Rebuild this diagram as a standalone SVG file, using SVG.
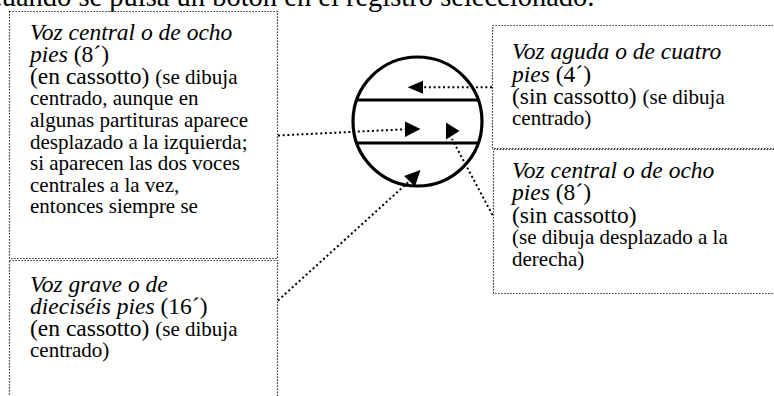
<svg xmlns="http://www.w3.org/2000/svg" width="774" height="396" viewBox="0 0 774 396">
  <style>
    .box { fill: #fff; stroke: #000; stroke-width: 1.2; stroke-dasharray: 1.2 1.8; }
    text { font-family: 'Liberation Serif', 'DejaVu Serif', serif; fill: #000; }
    .big { font-size: 23.5px; }
    .small { font-size: 21px; }
    .it { font-style: italic; }
    .conn { fill: none; stroke: #000; stroke-width: 2; stroke-dasharray: 2 2.7; }
    .head { fill: #000; stroke: none; }
    .sym { fill: none; stroke: #000; stroke-width: 3.2; }
  </style>

  <!-- running text line above the figure -->
  <text x="-11" y="5.5" font-size="28.5">cuando se pulsa un botón en el registro seleccionado.</text>

  <!-- register symbol: circle with two horizontal bars -->
  <g id="register-symbol">
    <circle class="sym" cx="417.5" cy="121.5" r="64.5"/>
    <line class="sym" x1="356.5" y1="100" x2="478.5" y2="100"/>
    <line class="sym" x1="356.5" y1="143" x2="478.5" y2="143"/>
  </g>

  <g id="voz-central-en-cassotto">
    <rect class="box" x="9.5" y="11.5" width="268" height="247"/>
    <text class="big it" x="30" y="40">Voz central o de ocho</text>
    <text class="big" x="30" y="62"><tspan class="it">pies</tspan> (8´)</text>
    <text class="big" x="30" y="83.5">(en cassotto) <tspan class="small">(se dibuja</tspan></text>
    <text class="small" x="30" y="105">centrado, aunque en</text>
    <text class="small" x="30" y="127">algunas partituras aparece</text>
    <text class="small" x="30" y="148.5">desplazado a la izquierda;</text>
    <text class="small" x="30" y="170">si aparecen las dos voces</text>
    <text class="small" x="30" y="191.5">centrales a la vez,</text>
    <text class="small" x="30" y="213">entonces siempre se</text>
  </g>

  <g id="voz-grave">
    <rect class="box" x="9.5" y="260.5" width="268" height="150"/>
    <text class="big it" x="30" y="292">Voz grave o de</text>
    <text class="big" x="30" y="314"><tspan class="it">dieciséis pies</tspan> (16´)</text>
    <text class="big" x="30" y="336">(en cassotto) <tspan class="small">(se dibuja</tspan></text>
    <text class="small" x="30" y="357">centrado)</text>
  </g>

  <g id="voz-aguda">
    <rect class="box" x="492.5" y="25.5" width="300" height="123"/>
    <text class="big it" x="512" y="59">Voz aguda o de cuatro</text>
    <text class="big" x="512" y="81.5"><tspan class="it">pies</tspan> (4´)</text>
    <text class="big" x="512" y="104">(sin cassotto) <tspan class="small">(se dibuja</tspan></text>
    <text class="small" x="512" y="125">centrado)</text>
  </g>

  <g id="voz-central-sin-cassotto">
    <rect class="box" x="493.5" y="149.5" width="300" height="144"/>
    <text class="big it" x="512" y="178">Voz central o de ocho</text>
    <text class="big" x="512" y="200"><tspan class="it">pies</tspan> (8´)</text>
    <text class="big" x="512" y="222.5">(sin cassotto)</text>
    <text class="small" x="512" y="244">(se dibuja desplazado a la</text>
    <text class="small" x="512" y="265.5">derecha)</text>
  </g>

  <g id="connectors">
    <!-- 4' voice: points into the top segment -->
    <line class="conn" x1="492" y1="87.3" x2="423" y2="87.3"/>
    <polygon class="head" points="407.5,87.3 423,80.8 423,93.8"/>
    <!-- 8' in cassotto: centre of the middle band -->
    <line class="conn" x1="278" y1="135.5" x2="405" y2="129.3"/>
    <polygon class="head" points="420.5,129 405,121.5 405,137"/>
    <!-- 8' without cassotto: right of the middle band -->
    <line class="conn" x1="492.5" y1="215" x2="452" y2="139"/>
    <polygon class="head" points="459.5,131 446,122.5 446,139.5"/>
    <!-- 16' voice: bottom segment -->
    <line class="conn" x1="278" y1="300.5" x2="409" y2="181.5"/>
    <polygon class="head" points="420.5,170 404,176 415,186.5"/>
  </g>
</svg>
